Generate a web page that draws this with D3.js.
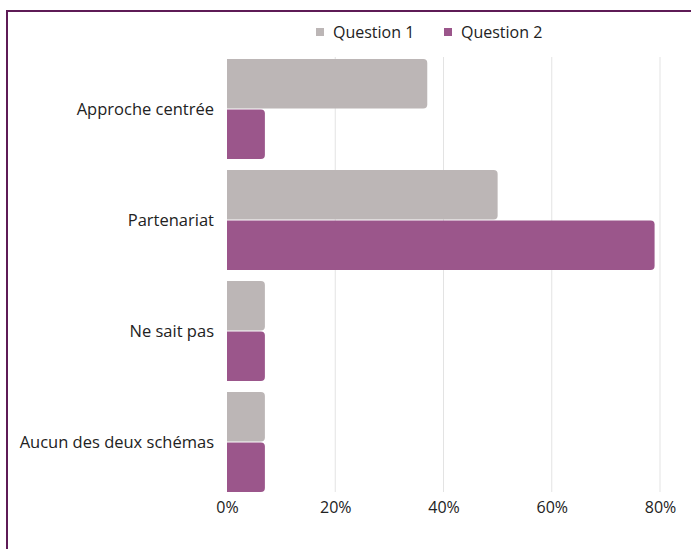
<!DOCTYPE html>
<html>
<head>
<meta charset="utf-8">
<script src="https://cdn.jsdelivr.net/npm/d3@7"></script>
<style>
  html, body { margin: 0; padding: 0; background: #fff; }
  svg { display: block; font-family: "Open Sans", sans-serif; }
</style>
</head>
<body>
<svg id="chart" width="691" height="549"></svg>
<script>
const categories = ["Approche centrée", "Partenariat", "Ne sait pas", "Aucun des deux schémas"];
const seriesNames = ["Question 1", "Question 2"];
const question1 = [37, 50, 7, 7];
const question2 = [7, 79, 7, 7];
const xTicks = [0, 20, 40, 60, 80];
const colors = ["#bcb6b6", "#9b568b"];

const svg = d3.select("#chart");
const W = 691, H = 549;

// frame border (top and left visible)
svg.append("path")
  .attr("d", `M7,${H} L7,11 L${W},11`)
  .attr("fill", "none")
  .attr("stroke", "#5e1b56")
  .attr("stroke-width", 2);

const x = d3.scaleLinear().domain([0, 80]).range([227, 660]);
const y = d3.scaleBand().domain(categories).range([53.5, 497.5]).paddingInner(0.1).paddingOuter(0.05);
const y1 = d3.scaleBand().domain(seriesNames).range([0, y.bandwidth()]).paddingInner(0.02);

// gridlines
svg.append("g").selectAll("line").data(xTicks.slice(1)).join("line")
  .attr("x1", d => x(d)).attr("x2", d => x(d))
  .attr("y1", 57).attr("y2", 492)
  .attr("stroke", "#e3e3e3").attr("stroke-width", 1);

const data = categories.map((c, i) => ({cat: c, vals: [question1[i], question2[i]]}));

function barPath(x0, x1, yTop, h, r) {
  const w = x1 - x0;
  r = Math.min(r, w / 2, h / 2);
  return `M${x0},${yTop} H${x1 - r} Q${x1},${yTop} ${x1},${yTop + r} V${yTop + h - r} Q${x1},${yTop + h} ${x1 - r},${yTop + h} H${x0} Z`;
}

const groups = svg.append("g").selectAll("g").data(data).join("g")
  .attr("transform", d => `translate(0,${y(d.cat)})`);

groups.selectAll("path").data(d => d.vals.map((v, i) => ({v, s: seriesNames[i], i}))).join("path")
  .attr("d", d => barPath(x(0), x(d.v), y1(d.s), y1.bandwidth(), 4))
  .attr("fill", d => colors[d.i]);

// category labels
svg.append("g").selectAll("text").data(categories).join("text")
  .attr("x", 214)
  .attr("y", d => y(d) + y.bandwidth() / 2)
  .attr("dy", "0.35em")
  .attr("text-anchor", "end")
  .attr("font-size", 16.5)
  .attr("fill", "#222")
  .text(d => d);

// x axis tick labels
const xAxis = d3.axisBottom(x).tickValues(xTicks).tickFormat(d => d + "%").tickSize(0).tickPadding(0);
const ax = svg.append("g").attr("transform", "translate(0,502)").call(xAxis);
ax.select(".domain").remove();
ax.selectAll("text").attr("font-size", 16).attr("fill", "#222").attr("font-family", "Open Sans, sans-serif").attr("dy", "0.71em");

// legend
const legendItems = [{name: seriesNames[0], x: 316}, {name: seriesNames[1], x: 444}];
const lg = svg.append("g").selectAll("g").data(legendItems).join("g")
  .attr("transform", d => `translate(${d.x},0)`);
lg.append("rect").attr("x", 0).attr("y", 28).attr("width", 8).attr("height", 8)
  .attr("fill", (d, i) => colors[i]);
lg.append("text").attr("x", 17).attr("y", 32).attr("dy", "0.35em")
  .attr("font-size", 16).attr("fill", "#222")
  .text(d => d.name);
</script>
</body>
</html>
